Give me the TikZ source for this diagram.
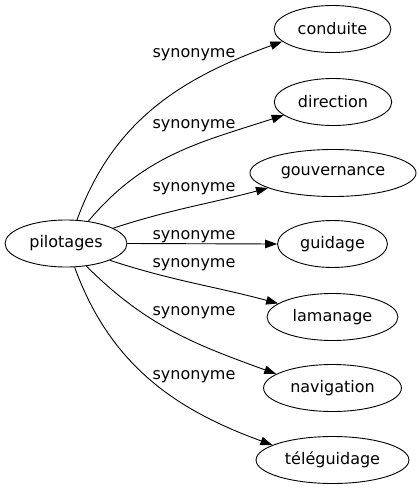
\documentclass[tikz,border=0pt]{standalone}
\usepackage{fontspec}
\setmainfont{DejaVu Sans}
\usetikzlibrary{
  arrows.meta,
  shapes.geometric
}

\begin{document}
\begin{tikzpicture}[x=1pt,y=-1pt,
  word/.style={draw,ellipse,line width=0.9pt,minimum height=47pt,inner xsep=6.5pt,
    font=\fontsize{16}{19}\selectfont,text=black},
  syn/.style={-{Triangle[length=12pt,width=8.5pt]},line width=0.9pt},
  synlabel/.style={anchor=base,inner sep=0pt,font=\fontsize{16}{19}\selectfont,text=black}]
  \useasboundingbox (0,0) rectangle (419,491);

  \node[word] at (66,243.5) (Pilotages) {pilotages};

  \node[word] at (332.5,29) (Conduite) {conduite};
  \node[word] at (333,102) (Direction) {direction};
  \node[word] at (333,173) (Gouvernance) {gouvernance};
  \node[word] at (332.5,244) (Guidage) {guidage};
  \node[word] at (332.5,317) (Lamanage) {lamanage};
  \node[word] at (332.5,388) (Navigation) {navigation};
  \node[word] at (332.5,460) (Teleguidage) {téléguidage};

  \draw[syn] (Pilotages.65) to[out=70,in=200] (Conduite.194);
  \draw[syn] (Pilotages.45) to[out=50,in=198] (Direction.195);
  \draw[syn] (Pilotages.18) to[out=18,in=195] (Gouvernance.193);
  \draw[syn] (Pilotages.east) -- (Guidage.west);
  \draw[syn] (Pilotages.-21) to[out=-18,in=165] (Lamanage.166);
  \draw[syn] (Pilotages.-48) to[out=-45,in=160] (Navigation.166);
  \draw[syn] (Pilotages.-70) to[out=-70,in=160] (Teleguidage.166);

  \node[synlabel] at (194,57.3) (Syn Conduite) {synonyme};
  \node[synlabel] at (194,128.3) (Syn Direction) {synonyme};
  \node[synlabel] at (194,191.7) (Syn Gouvernance) {synonyme};
  \node[synlabel] at (194,239.3) (Syn Guidage) {synonyme};
  \node[synlabel] at (194,267) (Syn Lamanage) {synonyme};
  \node[synlabel] at (194,315) (Syn Navigation) {synonyme};
  \node[synlabel] at (194,379.3) (Syn Teleguidage) {synonyme};
\end{tikzpicture}
\end{document}
